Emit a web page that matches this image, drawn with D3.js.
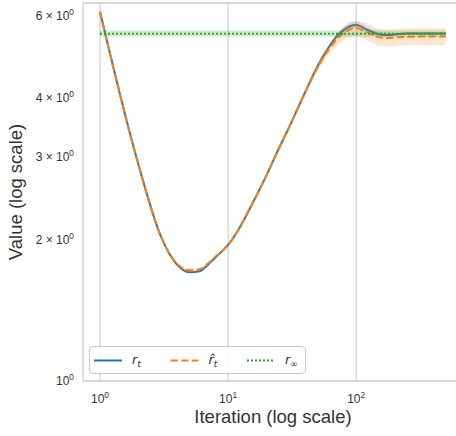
<!DOCTYPE html>
<html lang="en">
<head>
    <meta charset="utf-8">
    <title>Value vs Iteration</title>
    <style type="text/css">
        body { margin: 0; background: #fff; }
        text { font-family: "Liberation Sans", Arial, sans-serif; fill: #333; }
        .grid line { stroke: #cccccc; stroke-width: 1.1; }
        .spine { stroke: #cccccc; stroke-width: 1.3; fill: none; }
        .tick-label { font-size: 12px; }
        .axis-label { font-size: 18.5px; }
        .math { font-family: "DejaVu Sans", sans-serif; font-style: italic; font-size: 13px; }
    </style>
</head>
<body>
<div id="chart"></div>

<script src="https://d3js.org/d3.v7.min.js"></script>
<script type="text/javascript">

    // iterations
    var iterations = [1, 2, 3, 4, 5, 6, 7, 8, 9, 10, 12, 15, 20, 25, 30, 40, 50, 60, 70, 80,
        100, 120, 150, 175, 200, 250, 300, 400, 500];

    // r_t (blue, solid)
    var rT = [6.10, 2.88, 2.025, 1.766, 1.704, 1.712, 1.770, 1.834, 1.890, 1.947,
        2.096, 2.346, 2.744, 3.131, 3.471, 4.120, 4.680, 5.087, 5.395, 5.584,
        5.722, 5.597, 5.467, 5.448, 5.460, 5.488, 5.488, 5.488, 5.484];
    var rTErr = [0.003, 0.003, 0.003, 0.003, 0.003, 0.003, 0.003, 0.003, 0.003, 0.003,
        0.004, 0.004, 0.004, 0.004, 0.004, 0.006, 0.008, 0.010, 0.012, 0.014,
        0.015, 0.014, 0.012, 0.010, 0.008, 0.007, 0.006, 0.006, 0.006];

    // r_hat_t (orange, dashed)
    var rHat = [6.10, 2.88, 2.025, 1.774, 1.720, 1.728, 1.780, 1.840, 1.893, 1.947,
        2.096, 2.346, 2.744, 3.131, 3.471, 4.110, 4.650, 5.037, 5.316, 5.502,
        5.629, 5.529, 5.387, 5.368, 5.378, 5.395, 5.403, 5.403, 5.403];
    var rHatErr = [0.007, 0.007, 0.007, 0.007, 0.007, 0.007, 0.007, 0.007, 0.007, 0.007,
        0.010, 0.010, 0.010, 0.010, 0.010, 0.015, 0.020, 0.025, 0.030, 0.035,
        0.037, 0.042, 0.042, 0.042, 0.042, 0.042, 0.042, 0.042, 0.042];

    // r_inf (green, dotted) and its band
    var rInf = 5.482;
    var rInfErr = 0.016;

    var xTicks = [1, 10, 100];
    var yTicks = [1, 2, 3, 4, 6];

    var W = 456, H = 436;
    var plot = { left: 83, right: 463, top: 3, bottom: 381 };

    var svg = d3.select("#chart")
            .append("svg")
            .attr("width", W)
            .attr("height", H);

    var xScale = d3.scaleLog()
            .domain([0.7364, 682])
            .range([plot.left, plot.right]);

    var yScale = d3.scaleLog()
            .domain([1, 6.37])
            .range([plot.bottom, plot.top]);

    svg.append("clipPath").attr("id", "clip")
            .append("rect")
            .attr("x", plot.left).attr("y", plot.top)
            .attr("width", plot.right - plot.left)
            .attr("height", plot.bottom - plot.top);

    // vertical grid at the major ticks
    svg.append("g").attr("class", "grid")
            .selectAll("line")
            .data(xTicks)
            .enter().append("line")
            .attr("x1", function(d) { return xScale(d); })
            .attr("x2", function(d) { return xScale(d); })
            .attr("y1", plot.top)
            .attr("y2", plot.bottom);

    var series = iterations.map(function(it, i) {
        return { x: it, r: rT[i], re: rTErr[i], h: rHat[i], he: rHatErr[i] };
    });

    var g = svg.append("g").attr("clip-path", "url(#clip)");

    function band(key, errKey) {
        return d3.area()
                .x(function(d) { return xScale(d.x); })
                .y0(function(d) { return yScale(d[key] / (1 + d[errKey])); })
                .y1(function(d) { return yScale(d[key] * (1 + d[errKey])); })
                .curve(d3.curveMonotoneX);
    }
    function line(key) {
        return d3.line()
                .x(function(d) { return xScale(d.x); })
                .y(function(d) { return yScale(d[key]); })
                .curve(d3.curveMonotoneX);
    }

    g.append("path").datum(series)
            .attr("d", band("r", "re"))
            .attr("fill", "#1f77b4").attr("fill-opacity", 0.2);
    g.append("path").datum(series)
            .attr("d", line("r"))
            .attr("fill", "none").attr("stroke", "#1f77b4").attr("stroke-width", 2);

    g.append("path").datum(series)
            .attr("d", band("h", "he"))
            .attr("fill", "#ff7f0e").attr("fill-opacity", 0.2);
    g.append("path").datum(series)
            .attr("d", line("h"))
            .attr("fill", "none").attr("stroke", "#ff7f0e").attr("stroke-width", 2)
            .attr("stroke-dasharray", "7.4 3.2");

    var xFirst = iterations[0], xLast = iterations[iterations.length - 1];
    g.append("rect")
            .attr("x", xScale(xFirst))
            .attr("width", xScale(xLast) - xScale(xFirst))
            .attr("y", yScale(rInf * (1 + rInfErr)))
            .attr("height", yScale(rInf / (1 + rInfErr)) - yScale(rInf * (1 + rInfErr)))
            .attr("fill", "#2ca02c").attr("fill-opacity", 0.2);
    g.append("line")
            .attr("x1", xScale(xFirst)).attr("x2", xScale(xLast))
            .attr("y1", yScale(rInf)).attr("y2", yScale(rInf))
            .attr("stroke", "#2ca02c").attr("stroke-width", 2)
            .attr("stroke-dasharray", "2 2");

    // spines
    svg.append("path").attr("class", "spine")
            .attr("d", "M" + plot.left + "," + plot.bottom + "V" + plot.top + "H" + plot.right +
                    "V" + plot.bottom + "Z");

    // x tick labels
    svg.append("g").selectAll("text")
            .data(xTicks)
            .enter().append("text")
            .attr("class", "tick-label")
            .attr("x", function(d) { return xScale(d); })
            .attr("y", 403)
            .attr("text-anchor", "middle")
            .each(function(d) {
                var t = d3.select(this);
                t.append("tspan").text("10");
                t.append("tspan").attr("font-size", "8.4px").attr("dy", -5)
                        .text(Math.round(Math.log10(d)));
            });

    // y tick labels
    svg.append("g").selectAll("text")
            .data(yTicks)
            .enter().append("text")
            .attr("class", "tick-label")
            .attr("x", 74)
            .attr("y", function(d) { return yScale(d) + 4.3; })
            .attr("text-anchor", "end")
            .each(function(d) {
                var t = d3.select(this);
                t.append("tspan").text(d === 1 ? "10" : d + " \u00d7 10");
                t.append("tspan").attr("font-size", "8.4px").attr("dy", -5).text("0");
            });

    // axis labels
    svg.append("text").attr("class", "axis-label")
            .attr("x", (plot.left + plot.right) / 2)
            .attr("y", 423)
            .attr("text-anchor", "middle")
            .text("Iteration (log scale)");
    svg.append("text").attr("class", "axis-label")
            .attr("transform", "translate(22," + (plot.top + plot.bottom) / 2 + ") rotate(-90)")
            .attr("text-anchor", "middle")
            .text("Value (log scale)");

    // legend
    var legend = svg.append("g");
    legend.append("rect")
            .attr("x", 89.5).attr("y", 346.5)
            .attr("width", 216).attr("height", 27)
            .attr("rx", 3.5)
            .attr("fill", "#fff").attr("fill-opacity", 0.8)
            .attr("stroke", "#cccccc").attr("stroke-width", 1);

    var legendItems = [
        { x: 94, color: "#1f77b4", dash: null, main: "r", sub: "t" },
        { x: 170.5, color: "#ff7f0e", dash: "7.4 3.2", main: "r\u0302", sub: "t" },
        { x: 247, color: "#2ca02c", dash: "2 2", main: "r", sub: "\u221e" }
    ];
    legendItems.forEach(function(it) {
        legend.append("line")
                .attr("x1", it.x).attr("x2", it.x + 28)
                .attr("y1", 360.5).attr("y2", 360.5)
                .attr("stroke", it.color).attr("stroke-width", 2)
                .attr("stroke-dasharray", it.dash);
        var t = legend.append("text").attr("class", "math")
                .attr("x", it.x + 38).attr("y", 364);
        t.append("tspan").text(it.main);
        t.append("tspan").attr("font-size", "9px").attr("dy", 3)
                .attr("font-style", it.sub === "t" ? "italic" : "normal")
                .text(it.sub);
    });

</script>
</body>
</html>
